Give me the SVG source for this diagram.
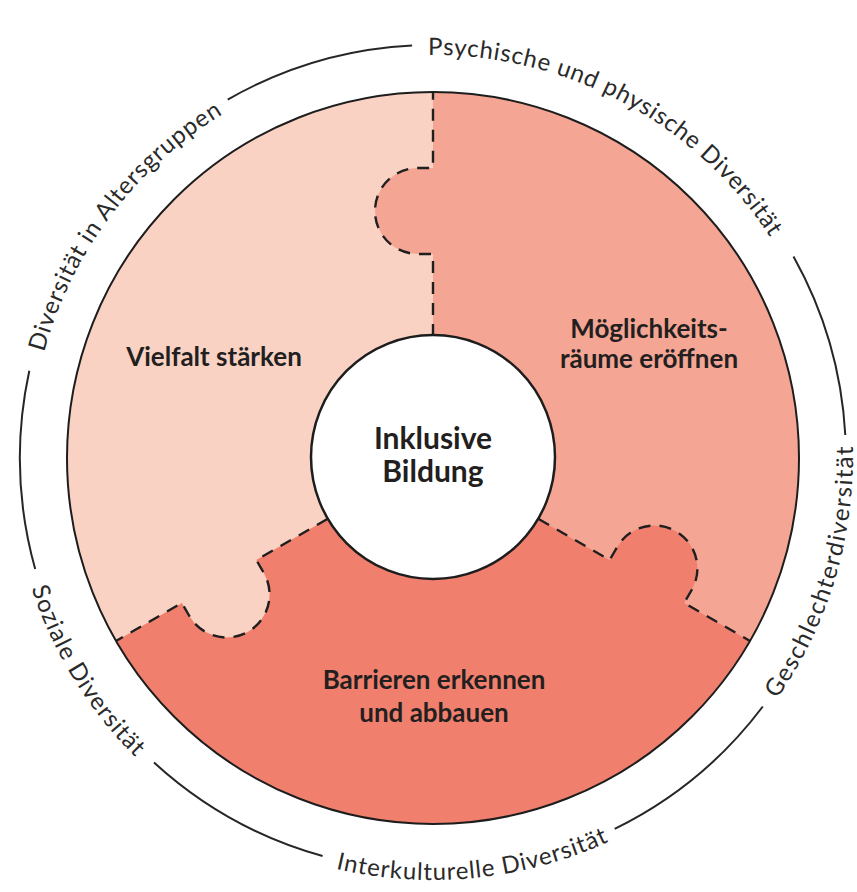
<svg xmlns="http://www.w3.org/2000/svg" width="857" height="892" viewBox="0 0 857 892">
  <style>
    .ring { fill: none; stroke: #262626; stroke-width: 2; stroke-linecap: butt; }
    .ringtxt { font-family: Lato, "Noto Sans", sans-serif; font-size: 24px; font-weight: 400; fill: #2a2a2a; }
    .label { font-family: Lato, "Noto Sans", sans-serif; font-size: 26px; font-weight: 700; fill: #231f20; text-anchor: middle; }
    .center { font-family: Lato, "Noto Sans", sans-serif; font-size: 30px; font-weight: 700; fill: #231f20; text-anchor: middle; }
    .seam { fill: none; stroke: #1f1f1f; stroke-width: 2.4; stroke-dasharray: 12 9; }
    .pA { fill: #f9d2c4; }
    .pB { fill: #f5a594; }
    .pC { fill: #f0806d; }
  </style>
  <defs>
    <!-- one wedge of the ring (from -90deg to 30deg) with the knob on its leading edge -->
    <path id="wedge" d="M433,458 L433,92 A366,366 0 0 1 749.96,641 Z"/>
    <path id="knob" d="M437,254 H418 A43,43 0 0 1 418,168 H437 Z"/>
    <path id="seamPath" d="M433,336 V254 H418 A43,43 0 0 1 418,168 H433 V92"/>
    <!-- text baselines on the outer ring -->
    <path id="tp1" d="M428.1,55 A403,403 0 0 1 811.7,320.2"/>
    <path id="tp5" d="M44.1,352.3 A403,403 0 0 1 295.2,79.3"/>
    <path id="tp2" d="M777.0,698.9 A420,420 0 0 0 843.8,370.7"/>
    <path id="tp3" d="M335.9,868.7 A422,422 0 0 0 675.1,803.7"/>
    <path id="tp4" d="M31.6,588.4 A422,422 0 0 0 190.9,803.7"/>
  </defs>

  <rect width="857" height="892" fill="#ffffff"/>

  <!-- outer ring of diversity dimensions -->
  <g id="outer-ring">
    <path class="ring" d="M227.7,99.6 A413,413 0 0 1 412.1,45.5"/>
    <path class="ring" d="M793.5,256.5 A413,413 0 0 1 845.3,435"/>
    <path class="ring" d="M762.8,706.5 A413,413 0 0 1 614.7,828.9"/>
    <path class="ring" d="M322.6,856 A413,413 0 0 1 154,762.5"/>
    <path class="ring" d="M35.2,569.1 A413,413 0 0 1 29.3,370.7"/>
    <text class="ringtxt"><textPath href="#tp1" textLength="404">Psychische und physische Diversität</textPath></text>
    <text class="ringtxt"><textPath href="#tp2" textLength="268">Geschlechterdiversität</textPath></text>
    <text class="ringtxt"><textPath href="#tp3" textLength="279">Interkulturelle Diversität</textPath></text>
    <text class="ringtxt"><textPath href="#tp4" textLength="200">Soziale Diversität</textPath></text>
    <text class="ringtxt"><textPath href="#tp5" textLength="305">Diversität in Altersgruppen</textPath></text>
  </g>

  <!-- puzzle pieces -->
  <g id="piece-vielfalt">
    <circle class="pA" cx="433" cy="458" r="366"/>
  </g>
  <g id="piece-moeglichkeiten">
    <use href="#wedge" class="pB"/>
    <use href="#knob" class="pB"/>
  </g>
  <g id="piece-barrieren">
    <use href="#wedge" class="pC" transform="rotate(120 433 458)"/>
    <use href="#knob" class="pC" transform="rotate(120 433 458)"/>
  </g>
  <g id="piece-vielfalt-knob">
    <use href="#knob" class="pA" transform="rotate(240 433 458)"/>
  </g>

  <!-- dashed seams between the pieces -->
  <g id="seams">
    <use href="#seamPath" class="seam"/>
    <use href="#seamPath" class="seam" transform="rotate(120 433 458)"/>
    <use href="#seamPath" class="seam" transform="rotate(240 433 458)"/>
  </g>

  <circle cx="433" cy="458" r="366" fill="none" stroke="#1d1d1d" stroke-width="2"/>

  <g id="core">
    <circle cx="433" cy="457" r="122" fill="#ffffff" stroke="#1d1d1d" stroke-width="2.5"/>
    <text class="center" x="433" y="449">Inklusive</text>
    <text class="center" x="433" y="482">Bildung</text>
  </g>

  <g id="labels">
    <text class="label" x="214" y="366">Vielfalt stärken</text>
    <text class="label" x="649" y="338">Möglichkeits-</text>
    <text class="label" x="649" y="368">räume eröffnen</text>
    <text class="label" x="434" y="689">Barrieren erkennen</text>
    <text class="label" x="434" y="722">und abbauen</text>
  </g>
</svg>
